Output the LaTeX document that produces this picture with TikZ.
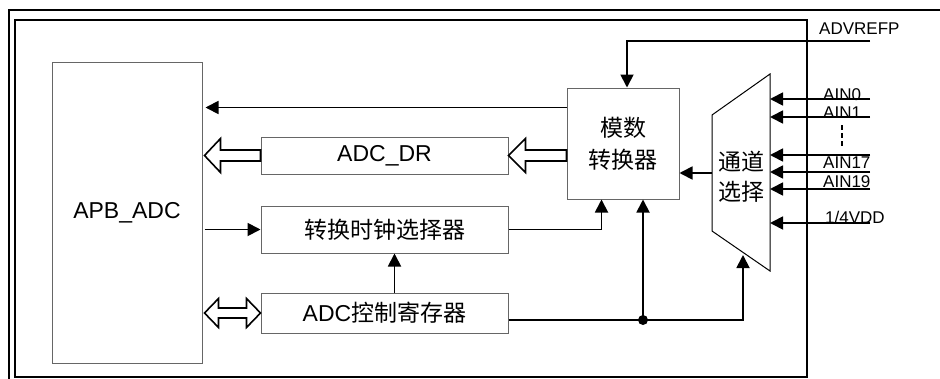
\documentclass[tikz,border=0pt]{standalone}
\usepackage{fontspec}
\setmainfont{Liberation Sans}
\newfontfamily\cjk{Noto Sans CJK SC}
\usetikzlibrary{arrows.meta,calc}
\newcommand\dgbig{\fontsize{23}{30}\selectfont}
\newcommand\dgsmall{\fontsize{17}{20}\selectfont}
\begin{document}
\begin{tikzpicture}[x=1pt,y=-1pt,
  box/.style={draw=black!60, line width=1pt, inner sep=0pt, font=\dgbig, align=center},
  arr/.style={line width=1.8pt, -{Triangle[length=13pt,width=13pt]}},
  conn/.style={line width=1.8pt},
  hol/.style={draw=black, line width=1.6pt, fill=white, line join=miter},
  lbl/.style={font=\dgsmall, inner sep=0pt, anchor=base west}]
\useasboundingbox (0,0) rectangle (940,378);
% frames
\draw[line width=2pt] (9,380) -- (9,10) -- (942,10);
\draw[line width=1.6pt] (15,20) rectangle (807,377);
% boxes
\node[box, minimum width=150pt, minimum height=301pt] (apb) at (127,212.5) {APB\_ADC};
\node[box, minimum width=247pt, minimum height=37pt] (dr) at (384.5,155.5) {ADC\_DR};
\node[box, minimum width=247pt, minimum height=47pt] (clk) at (384.5,229.5) {\cjk 转换时钟选择器};
\node[box, minimum width=247pt, minimum height=40pt] (ctl) at (384.5,313) {ADC{\cjk 控制寄存器}};
\node[box, minimum width=112pt, minimum height=111pt, font=\fontsize{23}{32}\selectfont\cjk] (adc) at (623,143.5) {模数\\转换器};
% multiplexer
\coordinate (mtl) at (712,115);
\coordinate (mtr) at (770,74);
\coordinate (mbr) at (770,271);
\coordinate (mbl) at (712,231);
\draw[line width=1pt] (mtl) -- (mtr) -- (mbr) -- (mbl) -- cycle;
\node[font=\fontsize{23}{30}\selectfont\cjk, align=center, inner sep=0pt] (mux) at (741,177) {通道\\选择};
\coordinate (mo) at (712,173);
\coordinate (mb) at (743,255);
% solid connectors
\draw[arr, shorten >=3pt] ([yshift=-20pt]adc.north west) -- ([yshift=-20pt]adc.north west -| apb.east);
\draw[arr] ([xshift=2pt]apb.east |- clk.west) -- (clk.west);
\draw[arr] (clk.east) -| ([xshift=35pt]adc.south west);
\draw[arr] ([xshift=10pt]ctl.north) -- ([xshift=10pt]clk.south);
\coordinate (j) at (643,320);
\draw[arr] (ctl.east |- j) -| (mb);
\draw[arr] (j) -- (j |- adc.south);
\fill (j) circle (5pt);
\draw[arr] (mo) -- (mo -| adc.east);
% reference input
\coordinate (vr) at (870,41);
\draw[arr] (vr) -| ([xshift=4pt]adc.north);
\node[lbl] (lvr) at (819,34) {ADVREFP};
% analog inputs
\coordinate (i0) at (870,99);
\coordinate (i1) at (870,117);
\coordinate (i17) at (870,155);
\coordinate (i19) at (870,172);
\coordinate (i20) at (870,189);
\coordinate (iv) at (870,223);
\foreach \c in {i0,i1,i17,i19,i20,iv} \draw[arr] (\c) -- (\c -| mtr);
\node[lbl] (l0) at (823,100) {AIN0};
\node[lbl] (l1) at (823,118) {AIN1};
\node[lbl] (l17) at (823,168) {AIN17};
\node[lbl] (l19) at (823,187) {AIN19};
\node[lbl] (lv) at (825,223) {1/4VDD};
\coordinate (d1) at (842,125);
\coordinate (d2) at (842,147);
\draw[line width=1.5pt, dash pattern=on 5pt off 3pt] (d1) -- (d2);
% hollow arrows
\draw[hol] let \p1=([xshift=2pt]apb.east |- dr.west), \p2=(dr.west) in
  (\x1,\y1) -- (\x1+16pt,\y1+17pt) -- (\x1+16pt,\y1+5.5pt) -- (\x2,\y1+5.5pt) -- (\x2,\y1-5.5pt) -- (\x1+16pt,\y1-5.5pt) -- (\x1+16pt,\y1-17pt) -- cycle;
\draw[hol] let \p1=(dr.east), \p2=(adc.west |- dr.east) in
  (\x1,\y1) -- (\x1+17pt,\y1+17pt) -- (\x1+17pt,\y1+5.5pt) -- (\x2,\y1+5.5pt) -- (\x2,\y1-5.5pt) -- (\x1+17pt,\y1-5.5pt) -- (\x1+17pt,\y1-17pt) -- cycle;
\draw[hol] let \p1=([xshift=2pt]apb.east |- ctl.west), \p2=(ctl.west) in
  (\x1,\y1) -- (\x1+14pt,\y1+14.5pt) -- (\x1+14pt,\y1+5pt) -- (\x2-14pt,\y1+5pt) -- (\x2-14pt,\y1+14.5pt) -- (\x2,\y1) -- (\x2-14pt,\y1-14.5pt) -- (\x2-14pt,\y1-5pt) -- (\x1+14pt,\y1-5pt) -- (\x1+14pt,\y1-14.5pt) -- cycle;
\end{tikzpicture}
\end{document}
